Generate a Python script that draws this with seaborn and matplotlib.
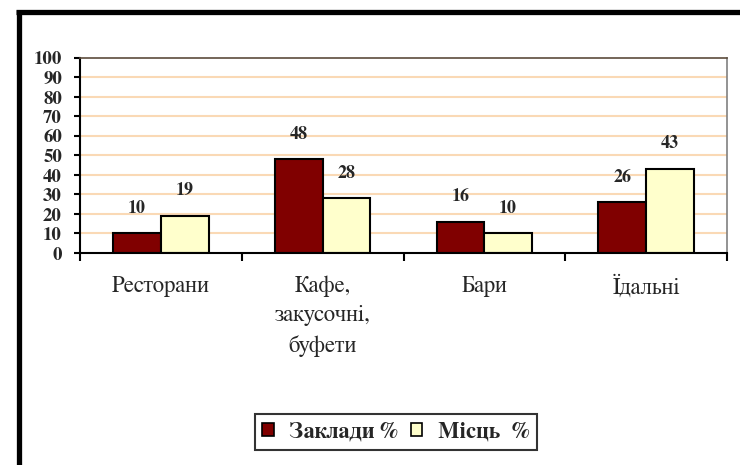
import matplotlib
matplotlib.use("Agg")
import matplotlib.pyplot as plt
import seaborn as sns
import pandas as pd
from matplotlib.lines import Line2D

categories = ["Ресторани", "Кафе,\nзакусочні,\nбуфети", "Бари", "Їдальні"]
series_names = ["Заклади %", "Місць  %"]
zaklady = [10, 48, 16, 26]
mists = [19, 28, 10, 43]
yticks = [0, 10, 20, 30, 40, 50, 60, 70, 80, 90, 100]

df = pd.DataFrame({
    "cat": categories * 2,
    "series": [series_names[0]] * 4 + [series_names[1]] * 4,
    "value": zaklady + mists,
})

sns.set_theme(style="white")
SERIF = ["FreeSerif", "DejaVu Serif"]
plt.rcParams["font.family"] = SERIF

W, H = 740, 465
fig = plt.figure(figsize=(W / 100, H / 100), dpi=100)
ax = fig.add_axes([80 / W, (H - 253) / H, (727 - 80) / W, (253 - 58) / H])

palette = {series_names[0]: "#800000", series_names[1]: "#FFFFCC"}
sns.barplot(data=df, x="cat", y="value", hue="series", palette=palette,
            width=0.59, saturation=1, edgecolor="black", linewidth=1.5,
            ax=ax, legend=True)

ax.set_ylim(0, 100)
ax.set_xlim(-0.5, 3.5)
ax.set_yticks(yticks)
ax.set_yticklabels([str(v) for v in yticks], fontsize=13.5, fontweight="bold")
ax.set_xlabel("")
ax.set_ylabel("")

# gridlines
for v in yticks[1:-1]:
    ax.axhline(v, color="#FAD9B5", lw=1.5, zorder=0)
ax.set_axisbelow(True)

# spines
ax.spines["left"].set_color("black")
ax.spines["left"].set_linewidth(1.5)
ax.spines["bottom"].set_color("black")
ax.spines["bottom"].set_linewidth(1.5)
ax.spines["top"].set_color("#5c4c3c")
ax.spines["top"].set_linewidth(1.2)
ax.spines["right"].set_color("#808080")
ax.spines["right"].set_linewidth(1.2)

ax.tick_params(axis="y", direction="out", length=4, width=1.5, color="black",
               left=True, pad=9)
ax.set_xticks(range(len(categories)))
ax.set_xticklabels(categories, fontsize=16.5, linespacing=1.5, va="top")
ax.tick_params(axis="x", which="major", length=0, pad=16)
ax.set_xticks([-0.5, 0.5, 1.5, 2.5, 3.5], minor=True)
ax.tick_params(axis="x", which="minor", bottom=True, direction="out",
               length=6, width=1.5, color="black")

for c in ax.containers:
    ax.bar_label(c, labels=[f"{int(v)}" for v in c.datavalues], padding=12,
                 fontsize=13, fontweight="bold")

# legend
leg = ax.legend(loc="center", bbox_to_anchor=((396 - 80) / (727 - 80), (253 - 432) / (253 - 58)),
                ncol=2, frameon=True, fancybox=False, shadow=False,
                prop={"family": SERIF, "weight": "bold", "size": 16},
                handlelength=0.5, handleheight=0.5, handletextpad=0.7,
                columnspacing=0.6, borderpad=0.35)
leg.get_frame().set_edgecolor("black")
leg.get_frame().set_linewidth(1.5)
for p in leg.get_patches():
    p.set_linewidth(1.2)

# outer frame (left and top thick lines)
fig.add_artist(Line2D([18.5 / W, 18.5 / W], [0, (H - 10) / H], color="black", lw=3.8,
                      transform=fig.transFigure, solid_capstyle="butt"))
fig.add_artist(Line2D([16 / W, 1], [(H - 12.5) / H, (H - 12.5) / H], color="black", lw=3.8,
                      transform=fig.transFigure, solid_capstyle="butt"))

fig.savefig("out.png", dpi=100)
